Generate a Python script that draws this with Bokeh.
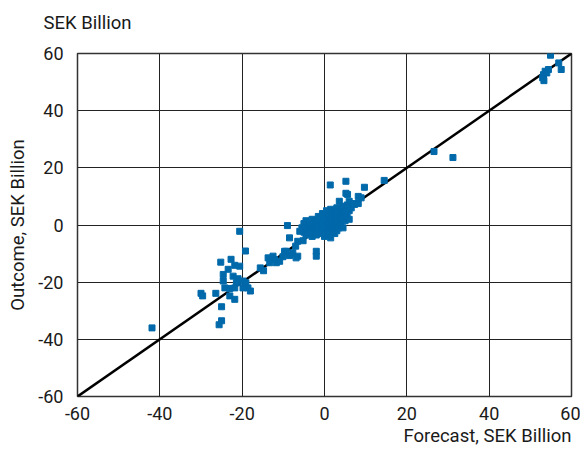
from bokeh.plotting import figure
from bokeh.models import FixedTicker, Range1d, PrintfTickFormatter, Title
from bokeh.embed import file_html
from bokeh.resources import INLINE

# Forecast (x) and outcome (y), SEK billion
forecast = [
    # central cluster
    -5.5, -5, -5, -4.5, -4.5, -4, -4, -3.5, -3.5, -3, -3, -3, -2.5, -2.5, -2, -2, -2,
    -1.5, -1.5, -1.5, -1, -1, -1, -0.5, -0.5, -0.5, -0.5, 0, 0, 0, 0, 0.5, 0.5, 0.5, 0.5,
    1, 1, 1, 1, 1.5, 1.5, 1.5, 1.5, 2, 2, 2, 2.5, 2.5, 2.5, 2.5, 3, 3, 3, 3, 3.5, 3.5, 3.5,
    4, 4, 4, 4.5, 4.5, 4.5, 5, 5, 5.5, 5.5, 6, 6, 6.5, 7,
    # upper spread
    1.4, 5.2, 9.7, 14.5, 5.2, 8.2, 8.2, 6.0, 8.9, 7.3, 5.6, 3.6, 26.6, 31.2,
    # large values
    54.9, 56.9, 57.5, 53.6, 53.2, 53.0, 54.0, 54.4, 53.3,
    # lower-left of centre
    -9.0, -8.5, -6.0, -6.5, -7.0, -9.7, -2.0, -2.0, -6.5, -5.2,
    -13.7, -13.3, -12.5, -12.1, -11.7, -10.9, -10.1, -9.3, -8.5, -7.7, -6.9, -15.6, -14.8,
    # around -20
    -20.6, -19.2, -25.2, -22.7, -23.4, -21.8, -20.6, -24.6, -24.6, -22.2, -21.0, -19.8,
    -21.4, -19.1, -24.2, -23.0, -21.8, -19.8, -18.6, -18.0, -30.0, -29.6, -26.4, -23.0,
    -21.8, -25.0, -25.0, -25.6, -41.9,
]
outcome = [
    -1, -2.5, 0.5, -3.5, 1.5, -1, -2, 0, -3, 2, -1.5, -4, 0.5, -2.5, 1.5, -1, -3.5,
    3, 0, -2, 2, -1, -3, 4, 1, -0.5, -2.5, 3, 0, -1.5, -4, 5, 2, -0.5, -3,
    4, 1, -1, -2.5, 5.5, 2.5, 0, -4.5, 3.5, 1, -1.5, 5, 2, -0.5, -3, 6, 3, 0.5, -2, 4.5, 1.5, -1,
    5.5, 2.5, 0, 6.5, 3.5, -1, 4.5, 1.5, 7, 3, 5, 2, 6, 7.5,
    14.0, 15.3, 13.2, 15.6, 11.1, 10.0, 7.5, 8.3, 9.5, 7.2, 10.7, 8.3, 25.7, 23.6,
    59.4, 56.7, 54.4, 53.8, 52.6, 51.5, 53.2, 54.4, 50.5,
    -0.2, -4.5, -2.2, -5.7, -7.4, -9.2, -9.2, -10.9, -10.9, -5.5,
    -11.5, -13.2, -10.9, -12.1, -13.2, -12.7, -11.1, -9.2, -10.7, -9.7, -11.5, -15.0, -16.0,
    -2.2, -9.1, -13.0, -12.0, -15.5, -14.1, -14.4, -17.3, -19.6, -17.9, -18.8, -19.6,
    -20.2, -20.2, -22.0, -22.2, -22.0, -22.0, -22.0, -23.1, -23.9, -24.8, -23.9, -24.8,
    -26.0, -28.6, -33.5, -34.9, -36.0,
]
ticks = [-60, -40, -20, 0, 20, 40, 60]
diag = [-60, 60]

FONT = "Roboto"
TXT = "#1a1a1a"
TSIZE = "18.5px"

p = figure(width=580, height=450, output_backend="svg", toolbar_location=None,
           x_range=Range1d(-60, 60), y_range=Range1d(-60, 60),
           min_border_left=77, min_border_right=9, min_border_top=53, min_border_bottom=54)

p.line(diag, diag, line_color="black", line_width=2.5)
p.scatter(forecast, outcome, marker="square", size=6, fill_color="#0069aa",
          line_color="#0069aa")

for ax in (p.xaxis, p.yaxis):
    ax.ticker = FixedTicker(ticks=ticks)
    ax.formatter = PrintfTickFormatter(format="%d")
    ax.axis_line_color = None
    ax.major_tick_line_color = None
    ax.minor_tick_line_color = None
    ax.major_tick_out = 0
    ax.major_tick_in = 0
    ax.minor_tick_out = 0
    ax.minor_tick_in = 0
    ax.major_label_text_font = FONT
    ax.major_label_text_font_size = "18px"
    ax.major_label_text_color = TXT

p.xaxis.major_label_standoff = 10
p.yaxis.major_label_standoff = 14
p.yaxis.axis_label = "Outcome, SEK Billion"
p.yaxis.axis_label_text_font = FONT
p.yaxis.axis_label_text_font_size = TSIZE
p.yaxis.axis_label_text_font_style = "normal"
p.yaxis.axis_label_text_color = TXT
p.yaxis.axis_label_standoff = 6

p.xgrid.ticker = FixedTicker(ticks=ticks)
p.ygrid.ticker = FixedTicker(ticks=ticks)
p.grid.grid_line_color = "#222222"
p.grid.grid_line_width = 1
p.outline_line_color = "#333333"
p.outline_line_width = 1.5
p.background_fill_color = "white"

p.title.text = "SEK Billion"
p.title.align = "left"
p.title.offset = -34
p.title.standoff = 0
p.title.text_font = FONT
p.title.text_font_size = TSIZE
p.title.text_font_style = "normal"
p.title.text_color = TXT

# empty spacer between the frame and the top-left unit text
spacer = Title(text=" ", text_font_size="10px", standoff=7)
p.add_layout(spacer, "above")

xt = Title(text="Forecast, SEK Billion", align="right", text_font=FONT,
           text_font_size=TSIZE, text_font_style="normal", text_color=TXT,
           standoff=0)
p.add_layout(xt, "below")

open("out.html", "w").write(file_html(p, INLINE))
